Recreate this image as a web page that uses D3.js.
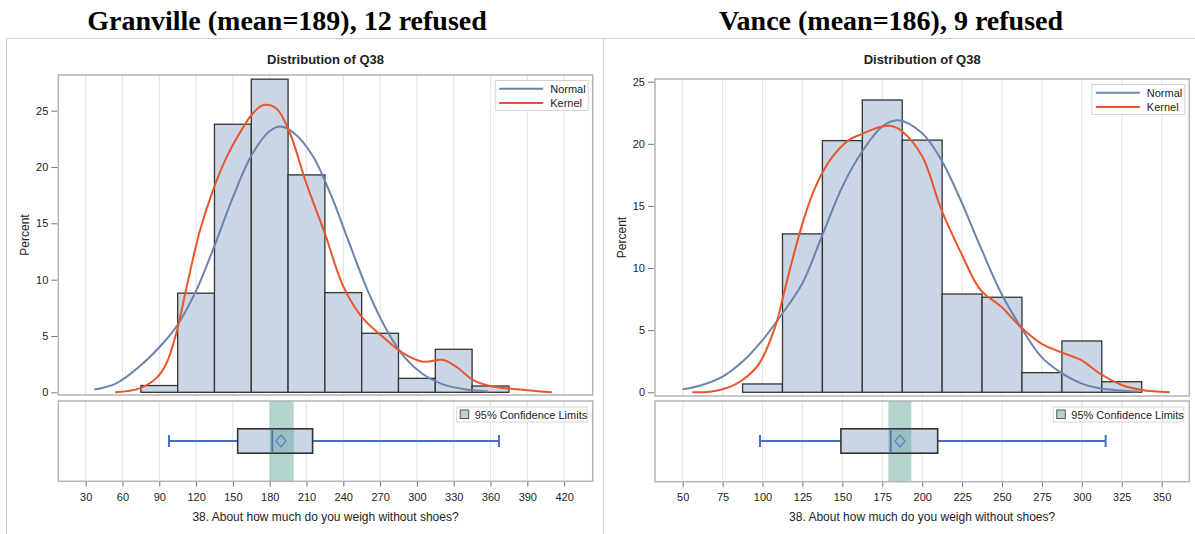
<!DOCTYPE html>
<html>
<head>
<meta charset="utf-8">
<script src="https://cdn.jsdelivr.net/npm/d3@7"></script>
<style>
  body { margin: 0; background: #fff; }
  text { font-family: "Liberation Sans", Arial, sans-serif; fill: #222; }
</style>
</head>
<body>
<svg id="chart" width="1195" height="534"></svg>
<script>
// ---------- data ----------
var panelTitles = ["Granville (mean=189), 12 refused", "Vance (mean=186), 9 refused"];

// histogram bins (edges) and percents
var granvilleEdges = [75, 105, 135, 165, 195, 225, 255, 285, 315, 345, 375];
var granvillePercent = [0.6, 8.8, 23.8, 27.8, 19.3, 8.85, 5.24, 1.24, 3.82, 0.56];
var vanceEdges = [87.5, 112.5, 137.5, 162.5, 187.5, 212.5, 237.5, 262.5, 287.5, 312.5, 337.5];
var vancePercent = [0.67, 12.75, 20.26, 23.53, 20.3, 7.91, 7.65, 1.58, 4.13, 0.85];

// normal curve points [weight, percent]
var granvilleNormal = [[37,0.25],[55,0.8],[75,2.4],[95,4.6],[105,6.0],[120,9.0],[135,13.0],[150,17.3],
  [165,21.0],[180,23.2],[189,23.6],[200,23.0],[215,21.0],[230,17.5],[245,13.2],[260,9.0],[275,5.6],
  [290,3.1],[305,1.6],[320,0.75],[340,0.25],[358,0.08]];
var vanceNormal = [[50,0.24],[60,0.5],[75,1.26],[87.5,2.47],[100,4.2],[112.5,6.36],[125,8.78],[137,12.5],
  [150,16.55],[162.5,19.4],[175,21.4],[185,21.9],[200,20.85],[212,18.7],[224,15.5],[236.5,11.7],
  [249.5,7.97],[261.5,5.3],[274.5,2.87],[286,1.66],[299.5,0.72],[311,0.32],[335,0.05]];

// kernel density points [weight, percent]
var granvilleKernel = [[54,0],[74,0.35],[88,1.3],[96,2.6],[104,5.3],[112,9.2],[123,14.3],[134,18.0],
  [145,20.9],[156,23.1],[166.5,24.8],[175,25.5],[185.5,25.2],[196.5,23.0],[210,18.5],[225,14.1],
  [240,9.4],[255,6.7],[272.5,4.9],[289,3.46],[305,2.72],[321.5,2.87],[332,2.27],[346,1.09],
  [359.5,0.56],[381,0.27],[410,0]];
var vanceKernel = [[56,0],[67,0.05],[77,0.32],[87.5,0.99],[98,2.33],[108,5.3],[114,8.3],[120,11.3],
  [126,14.0],[132,16.2],[138,17.8],[144,19.0],[154,20.3],[162.5,20.8],[172,21.3],[180,21.45],
  [187.5,21.0],[200,19.0],[212,14.7],[224.4,11.2],[236.5,8.24],[249.4,6.9],[261.5,5.28],
  [274.4,3.94],[286,3.27],[299.4,2.6],[311,1.53],[325,0.59],[337.5,0.19],[355,0]];

// box plot: [min, q1, median, q3, max], mean, 95% CI of mean
var granvilleBox = [97.9, 153.9, 182.1, 215, 366.9];
var granvilleMean = 189.2;
var granvilleCI = [180, 199.6];
var vanceBox = [98.4, 149.1, 180.3, 209.7, 314.9];
var vanceMean = 186.1;
var vanceCI = [178.8, 193.2];

// tick labels
var granvilleTicks = [30, 60, 90, 120, 150, 180, 210, 240, 270, 300, 330, 360, 390, 420];
var vanceTicks = [50, 75, 100, 125, 150, 175, 200, 225, 250, 275, 300, 325, 350];
var percentTicks = [0, 5, 10, 15, 20, 25];

// ---------- styles ----------
var barFill = "#cad5e5", barStroke = "#333",
    normalColor = "#6b84ad", kernelColor = "#e8562a",
    ciColor = "#6aaa9f", whiskerColor = "#4a6fc0",
    frameColor = "#b4b4b4", gridColor = "#e6e6e6";

var svg = d3.select("#chart");

// outer panel frames
svg.append("rect").attr("x", 6.5).attr("y", 38.5).attr("width", 597).attr("height", 510)
  .attr("fill", "none").attr("stroke", "#cfcfcf");
svg.append("rect").attr("x", 603.5).attr("y", 38.5).attr("width", 600).attr("height", 510)
  .attr("fill", "none").attr("stroke", "#cfcfcf");

var panels = [
  { title: panelTitles[0], titleX: 287, edges: granvilleEdges, pct: granvillePercent,
    normal: granvilleNormal, kernel: granvilleKernel, box: granvilleBox, mean: granvilleMean,
    ci: granvilleCI, ticks: granvilleTicks,
    x0: 58.3, x1: 592.7, xDomain: [7.7, 443.3],
    hTop: 75, hBottom: 395, yDomain: [-0.24, 28.17],
    bTop: 401, bBottom: 481.3, percentX: 29 },
  { title: panelTitles[1], titleX: 891, edges: vanceEdges, pct: vancePercent,
    normal: vanceNormal, kernel: vanceKernel, box: vanceBox, mean: vanceMean,
    ci: vanceCI, ticks: vanceTicks,
    x0: 655, x1: 1189.3, xDomain: [32.65, 367.3],
    hTop: 79, hBottom: 396, yDomain: [-0.3, 25.22],
    bTop: 401, bBottom: 481.7, percentX: 626 }
];

panels.forEach(function(p, i) {
  var g = svg.append("g");
  var x = d3.scaleLinear().domain(p.xDomain).range([p.x0, p.x1]);
  var y = d3.scaleLinear().domain(p.yDomain).range([p.hBottom, p.hTop]);
  var cx = (p.x0 + p.x1) / 2;

  // big title
  g.append("text").attr("x", p.titleX).attr("y", 30).attr("text-anchor", "middle")
    .style("font-family", "'Liberation Serif', 'DejaVu Serif', serif")
    .style("font-weight", "bold").style("font-size", "28px").style("fill", "#000")
    .text(p.title);

  g.append("text").attr("x", cx).attr("y", 64).attr("text-anchor", "middle")
    .style("font-weight", "bold").style("font-size", "13px").text("Distribution of Q38");

  // ---- histogram ----
  var clipId = "clip" + i;
  svg.append("clipPath").attr("id", clipId).append("rect")
    .attr("x", p.x0).attr("y", p.hTop).attr("width", p.x1 - p.x0).attr("height", p.hBottom - p.hTop);

  g.selectAll(".hgrid").data(p.ticks).enter().append("line")
    .attr("x1", d => x(d)).attr("x2", d => x(d))
    .attr("y1", p.hTop).attr("y2", p.hBottom)
    .attr("stroke", gridColor).attr("stroke-width", 1.2);

  var bins = p.pct.map((v, k) => ({ a: p.edges[k], b: p.edges[k + 1], v: v }));
  g.selectAll(".bar").data(bins).enter().append("rect")
    .attr("x", d => x(d.a)).attr("width", d => x(d.b) - x(d.a))
    .attr("y", d => y(d.v)).attr("height", d => y(0) - y(d.v))
    .attr("fill", barFill).attr("stroke", barStroke).attr("stroke-width", 1.3);

  var line = d3.line().x(d => x(d[0])).y(d => y(d[1])).curve(d3.curveCatmullRom.alpha(0.5));
  g.append("path").datum(p.normal).attr("d", line).attr("fill", "none")
    .attr("stroke", normalColor).attr("stroke-width", 2).attr("clip-path", "url(#" + clipId + ")");
  g.append("path").datum(p.kernel).attr("d", line).attr("fill", "none")
    .attr("stroke", kernelColor).attr("stroke-width", 2).attr("clip-path", "url(#" + clipId + ")");

  g.append("rect").attr("x", p.x0).attr("y", p.hTop)
    .attr("width", p.x1 - p.x0).attr("height", p.hBottom - p.hTop)
    .attr("fill", "none").attr("stroke", frameColor).attr("stroke-width", 1.5);

  // y axis
  var yAxis = g.append("g").attr("transform", "translate(" + (p.x0 - 1) + ",0)")
    .call(d3.axisLeft(y).tickValues(percentTicks).tickSize(6).tickPadding(3));
  yAxis.select(".domain").remove();
  yAxis.selectAll("line").attr("stroke", "#777");
  yAxis.selectAll("text").style("font-size", "11px").style("fill", "#222");

  g.append("text").attr("transform", "translate(" + p.percentX + "," + ((p.hTop + p.hBottom) / 2) + ") rotate(-90)")
    .attr("text-anchor", "middle").style("font-size", "12px").text("Percent");

  // histogram legend
  var lx = p.x1 - 97.5, ly = p.hTop + 5.5;
  g.append("rect").attr("x", lx).attr("y", ly).attr("width", 93).attr("height", 30)
    .attr("fill", "#fff").attr("stroke", "#d4d4d4");
  [["Normal", normalColor], ["Kernel", kernelColor]].forEach(function(it, k) {
    var yy = ly + 8.3 + k * 14.3;
    g.append("line").attr("x1", lx + 4).attr("x2", lx + 48).attr("y1", yy).attr("y2", yy)
      .attr("stroke", it[1]).attr("stroke-width", 2);
    g.append("text").attr("x", lx + 55).attr("y", yy + 4).style("font-size", "11px").text(it[0]);
  });

  // ---- box plot panel ----
  g.selectAll(".bgrid").data(p.ticks).enter().append("line")
    .attr("x1", d => x(d)).attr("x2", d => x(d))
    .attr("y1", p.bTop).attr("y2", p.bBottom)
    .attr("stroke", gridColor).attr("stroke-width", 1.2);

  var by = p.bTop + 40, bh = 12.2;
  var b = p.box;
  g.append("line").attr("x1", x(b[0])).attr("x2", x(b[1])).attr("y1", by).attr("y2", by)
    .attr("stroke", whiskerColor).attr("stroke-width", 2);
  g.append("line").attr("x1", x(b[3])).attr("x2", x(b[4])).attr("y1", by).attr("y2", by)
    .attr("stroke", whiskerColor).attr("stroke-width", 2);
  [b[0], b[4]].forEach(function(v) {
    g.append("line").attr("x1", x(v)).attr("x2", x(v)).attr("y1", by - 6).attr("y2", by + 6)
      .attr("stroke", whiskerColor).attr("stroke-width", 2);
  });
  g.append("rect").attr("x", x(b[1])).attr("y", by - bh).attr("width", x(b[3]) - x(b[1]))
    .attr("height", 2 * bh).attr("fill", barFill);

  // confidence band
  g.append("rect").attr("x", x(p.ci[0])).attr("y", p.bTop).attr("width", x(p.ci[1]) - x(p.ci[0]))
    .attr("height", p.bBottom - p.bTop).attr("fill", ciColor).attr("fill-opacity", 0.5);

  g.append("rect").attr("x", x(b[1])).attr("y", by - bh).attr("width", x(b[3]) - x(b[1]))
    .attr("height", 2 * bh).attr("fill", "none").attr("stroke", "#333").attr("stroke-width", 1.6);
  g.append("line").attr("x1", x(b[2])).attr("x2", x(b[2])).attr("y1", by - bh).attr("y2", by + bh)
    .attr("stroke", "#4f79a8").attr("stroke-width", 1.8);
  var mx = x(p.mean);
  g.append("path").attr("d", "M" + mx + "," + (by - 6) + "L" + (mx + 5) + "," + by + "L" + mx + "," + (by + 6) +
    "L" + (mx - 5) + "," + by + "Z").attr("fill", "none").attr("stroke", "#5b84c0").attr("stroke-width", 1.2);

  g.append("rect").attr("x", p.x0).attr("y", p.bTop)
    .attr("width", p.x1 - p.x0).attr("height", p.bBottom - p.bTop)
    .attr("fill", "none").attr("stroke", frameColor).attr("stroke-width", 1.5);

  // CI legend
  var cx0 = p.x1 - 136, cy0 = p.bTop + 6;
  g.append("rect").attr("x", cx0).attr("y", cy0).attr("width", 130.5).attr("height", 15)
    .attr("fill", "#fff").attr("stroke", "#d4d4d4");
  g.append("rect").attr("x", cx0 + 3.5).attr("y", cy0 + 3).attr("width", 8.5).attr("height", 8.5)
    .attr("fill", "#b4d4cf").attr("stroke", "#555");
  g.append("text").attr("x", cx0 + 18).attr("y", cy0 + 11.5).style("font-size", "11px")
    .text("95% Confidence Limits");

  // x axis
  var xAxis = g.append("g").attr("transform", "translate(0," + (p.bBottom + 0.5) + ")")
    .call(d3.axisBottom(x).tickValues(p.ticks).tickSize(5).tickPadding(6));
  xAxis.select(".domain").remove();
  xAxis.selectAll("line").attr("stroke", "#777");
  xAxis.selectAll("text").style("font-size", "11px").style("fill", "#222");

  g.append("text").attr("x", cx).attr("y", 521).attr("text-anchor", "middle")
    .style("font-size", "12px").text("38. About how much do you weigh without shoes?");
});
</script>
</body>
</html>
